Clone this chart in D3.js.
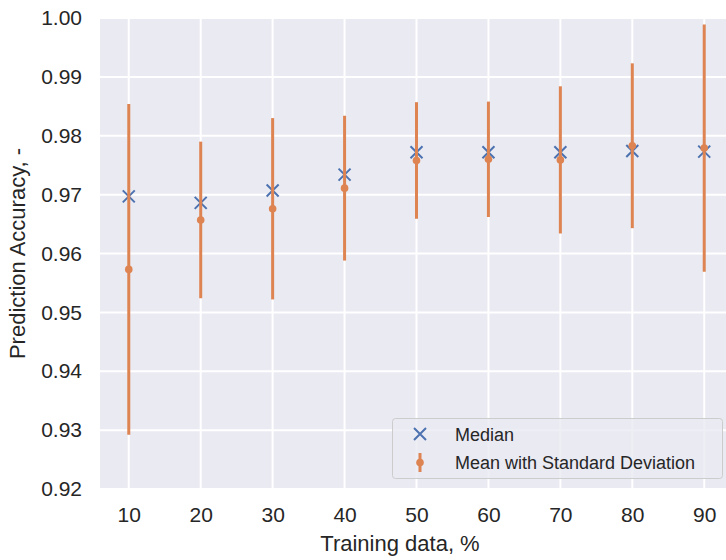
<!DOCTYPE html>
<html>
<head>
<meta charset="utf-8">
<script src="https://cdn.jsdelivr.net/npm/d3@7"></script>
<style>
  html, body { margin: 0; padding: 0; background: #fff; }
  svg { display: block; font-family: "Liberation Sans", Arial, sans-serif; }
</style>
</head>
<body>
<svg id="chart" width="726" height="560"></svg>
<script>
// Training share (%) used for each run
const trainingShare = [10, 20, 30, 40, 50, 60, 70, 80, 90];
// Median prediction accuracy per training share
const medianAccuracy = [0.9697, 0.9686, 0.9707, 0.9734, 0.9772, 0.9772, 0.9772, 0.9774, 0.9773];
// Mean prediction accuracy per training share
const meanAccuracy = [0.9573, 0.9657, 0.9676, 0.9711, 0.9758, 0.9760, 0.9759, 0.9783, 0.9779];
// Standard deviation of the accuracy
const stdAccuracy = [0.0281, 0.0133, 0.0154, 0.0123, 0.0099, 0.0098, 0.0125, 0.0140, 0.0210];
// Axis ticks
const xTicks = [10, 20, 30, 40, 50, 60, 70, 80, 90];
const yTicks = [0.92, 0.93, 0.94, 0.95, 0.96, 0.97, 0.98, 0.99, 1.00];

const svg = d3.select("#chart");
const plot = { left: 100, top: 18, right: 733, bottom: 489 };

const x = d3.scaleLinear().domain([6, 94]).range([plot.left, plot.right]);
const y = d3.scaleLinear().domain([0.92, 1.00]).range([plot.bottom, plot.top]);

const bg = "#EAEAF2", blue = "#4C72B0", orange = "#DD8452", textCol = "#262626";

svg.append("clipPath").attr("id", "plotclip")
  .append("rect").attr("x", plot.left).attr("y", plot.top)
  .attr("width", plot.right - plot.left).attr("height", plot.bottom - plot.top);

svg.append("rect").attr("x", plot.left).attr("y", plot.top)
  .attr("width", plot.right - plot.left).attr("height", plot.bottom - plot.top)
  .attr("fill", bg);

// Grid
const grid = svg.append("g").attr("clip-path", "url(#plotclip)");
grid.selectAll(".gx").data(xTicks).join("line")
  .attr("x1", d => x(d)).attr("x2", d => x(d))
  .attr("y1", plot.top).attr("y2", plot.bottom)
  .attr("stroke", "#fff").attr("stroke-width", 2);
grid.selectAll(".gy").data(yTicks).join("line")
  .attr("x1", plot.left).attr("x2", plot.right)
  .attr("y1", d => y(d)).attr("y2", d => y(d))
  .attr("stroke", "#fff").attr("stroke-width", 2);

// Axes (labels only, no domain or tick marks)
const xAxis = svg.append("g").attr("transform", `translate(0,${plot.bottom})`)
  .call(d3.axisBottom(x).tickValues(xTicks).tickSize(0).tickPadding(18).tickFormat(d3.format("d")));
const yAxis = svg.append("g").attr("transform", `translate(${plot.left},0)`)
  .call(d3.axisLeft(y).tickValues(yTicks).tickSize(0).tickPadding(18).tickFormat(d3.format(".2f")));
[xAxis, yAxis].forEach(a => {
  a.select(".domain").remove();
  a.selectAll("text").attr("font-size", 21).attr("fill", textCol)
    .attr("font-family", "Liberation Sans, Arial, sans-serif");
});

// Axis titles
svg.append("text").attr("x", (plot.left + 726) / 2 - 13).attr("y", 551)
  .attr("text-anchor", "middle").attr("font-size", 22).attr("fill", textCol)
  .text("Training data, %");
svg.append("text")
  .attr("transform", `translate(25,${(plot.top + plot.bottom) / 2}) rotate(-90)`)
  .attr("text-anchor", "middle").attr("font-size", 22).attr("fill", textCol)
  .text("Prediction Accuracy, -");

const data = trainingShare.map((t, i) => ({
  t, med: medianAccuracy[i], mean: meanAccuracy[i], sd: stdAccuracy[i]
}));

const marks = svg.append("g").attr("clip-path", "url(#plotclip)");
const cross = 6;

// Median crosses
const medG = marks.selectAll(".med").data(data).join("g")
  .attr("transform", d => `translate(${x(d.t)},${y(d.med)})`);
medG.append("path").attr("d", `M${-cross},${-cross}L${cross},${cross}M${-cross},${cross}L${cross},${-cross}`)
  .attr("stroke", blue).attr("stroke-width", 2).attr("fill", "none");

// Mean with standard deviation
marks.selectAll(".err").data(data).join("line")
  .attr("x1", d => x(d.t)).attr("x2", d => x(d.t))
  .attr("y1", d => y(d.mean - d.sd)).attr("y2", d => y(d.mean + d.sd))
  .attr("stroke", orange).attr("stroke-width", 3);
marks.selectAll(".mean").data(data).join("circle")
  .attr("cx", d => x(d.t)).attr("cy", d => y(d.mean)).attr("r", 3.8)
  .attr("fill", orange);

// Legend
const lg = svg.append("g");
lg.append("rect").attr("x", 392.5).attr("y", 418.5).attr("width", 330).attr("height", 60)
  .attr("rx", 3).attr("fill", bg).attr("fill-opacity", 0.8)
  .attr("stroke", "#cccccc").attr("stroke-width", 1);
lg.append("path").attr("transform", "translate(420,434)")
  .attr("d", `M${-cross},${-cross}L${cross},${cross}M${-cross},${cross}L${cross},${-cross}`)
  .attr("stroke", blue).attr("stroke-width", 2).attr("fill", "none");
lg.append("line").attr("x1", 420).attr("x2", 420).attr("y1", 453).attr("y2", 472)
  .attr("stroke", orange).attr("stroke-width", 3);
lg.append("circle").attr("cx", 420).attr("cy", 462.5).attr("r", 3.8).attr("fill", orange);
lg.append("text").attr("x", 455).attr("y", 440.5).attr("font-size", 18).attr("fill", textCol).text("Median");
lg.append("text").attr("x", 455).attr("y", 469).attr("font-size", 18).attr("fill", textCol).text("Mean with Standard Deviation");
</script>
</body>
</html>
